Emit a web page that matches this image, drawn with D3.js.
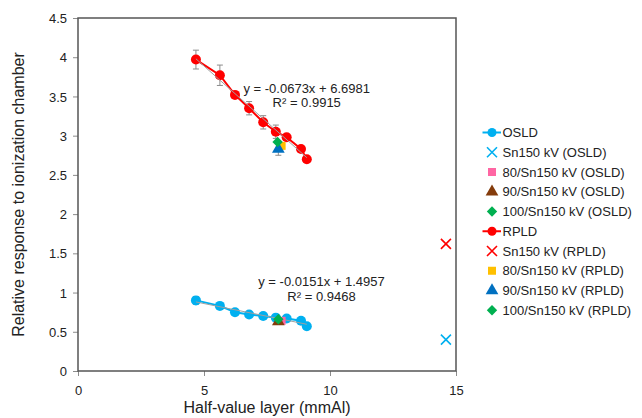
<!DOCTYPE html>
<html>
<head>
<meta charset="utf-8">
<script src="https://cdn.jsdelivr.net/npm/d3@7/dist/d3.min.js"></script>
<style>
  html, body { margin: 0; padding: 0; background: #fff; }
  svg { display: block; font-family: "Liberation Sans", Arial, sans-serif; }
</style>
</head>
<body>
<svg id="chart" width="642" height="418"></svg>
<script>
// ---- Data ----
const osldHVL   = [4.68, 5.63, 6.23, 6.79, 7.35, 7.85, 8.28, 8.85, 9.08];
const osldResp  = [0.90, 0.83, 0.75, 0.72, 0.70, 0.68, 0.67, 0.64, 0.57];
const osldErr   = [0.05, 0.03, 0.03, 0.03, 0.03, 0.03, 0.03, 0.03, 0.03];
const rpldHVL   = [4.68, 5.63, 6.23, 6.79, 7.35, 7.85, 8.28, 8.85, 9.08];
const rpldResp  = [3.97, 3.77, 3.52, 3.35, 3.17, 3.05, 2.98, 2.83, 2.70];
const rpldErr   = [0.12, 0.13, 0.03, 0.085, 0.085, 0.085, 0.04, 0.04, 0.03];

const osldExtra = [ // [label, hvl, response, shape, color]
  ["Sn150 kV (OSLD)",      14.6, 0.40, "x",        "#00B0F0"],
  ["80/Sn150 kV (OSLD)",   8.08, 0.64, "square",   "#FF66A3"],
  ["90/Sn150 kV (OSLD)",   7.95, 0.63, "triangle", "#843C0C"],
  ["100/Sn150 kV (OSLD)",  7.95, 0.66, "diamond",  "#00B050"]
];
const rpldExtra = [
  ["Sn150 kV (RPLD)",      14.6, 1.62, "x",        "#FF0000"],
  ["80/Sn150 kV (RPLD)",   8.08, 2.87, "square",   "#FFC000"],
  ["90/Sn150 kV (RPLD)",   7.95, 2.83, "triangle", "#0070C0"],
  ["100/Sn150 kV (RPLD)",  7.92, 2.92, "diamond",  "#00B050"]
];
const rpldTriErr = 0.08;

const xTicks = [0, 5, 10, 15];
const yTicks = [0, 0.5, 1, 1.5, 2, 2.5, 3, 3.5, 4, 4.5];
const xTitle = "Half-value layer (mmAl)";
const yTitle = "Relative response to ionization chamber";
const osldEq = ["y = -0.0151x + 1.4957", "R² = 0.9468"];
const rpldEq = ["y = -0.0673x + 6.6981", "R² = 0.9915"];

// ---- Layout ----
const svg = d3.select("#chart");
const L = 78, R = 456, T = 18, B = 371;
const x = d3.scaleLinear().domain([0, 15]).range([L, R]);
const y = d3.scaleLinear().domain([0, 4.5]).range([B, T]);

// Axes
const xAxis = d3.axisBottom(x).tickValues(xTicks).tickSize(5).tickFormat(d3.format("d"));
const yAxis = d3.axisLeft(y).tickValues(yTicks).tickSize(5).tickFormat(d => String(d));

const gx = svg.append("g").attr("transform", `translate(0,${B})`).call(xAxis);
const gy = svg.append("g").attr("transform", `translate(${L},0)`).call(yAxis);
[gx, gy].forEach(g => {
  g.select(".domain").remove();
  g.selectAll(".tick line").attr("stroke", "#8c8c8c").attr("stroke-width", 1);
  g.selectAll(".tick text").attr("font-size", 13).attr("fill", "#222")
    .attr("font-family", "'Liberation Sans', Arial, sans-serif");
});
gx.selectAll(".tick text").attr("dy", 0).attr("y", 24);
gy.selectAll(".tick text").attr("x", -11).attr("dy", "0.35em");

// Plot frame
svg.append("rect").attr("x", L).attr("y", T).attr("width", R - L).attr("height", B - T)
  .attr("fill", "none").attr("stroke", "#555").attr("stroke-width", 1.5);

// Titles
svg.append("text").attr("x", (L + R) / 2).attr("y", 413).attr("text-anchor", "middle")
  .attr("font-size", 16).attr("fill", "#222").text(xTitle);
svg.append("text").attr("transform", `translate(24,${(T + B) / 2}) rotate(-90)`)
  .attr("text-anchor", "middle").attr("font-size", 16).attr("fill", "#222").text(yTitle);

// Symbols
function symbolPath(shape) {
  if (shape === "square") return d3.symbol(d3.symbolSquare, 64)();
  if (shape === "triangle") return d3.symbol(d3.symbolTriangle, 70)();
  if (shape === "diamond") { const s = 5.2; return `M0,${-s}L${s},0L0,${s}L${-s},0Z`; }
  return null;
}
function drawMarker(g, cx, cy, shape, color) {
  if (shape === "x") {
    const s = 5;
    g.append("path").attr("d", `M${cx - s},${cy - s}L${cx + s},${cy + s}M${cx - s},${cy + s}L${cx + s},${cy - s}`)
      .attr("stroke", color).attr("stroke-width", 1.6).attr("fill", "none");
  } else {
    g.append("path").attr("d", symbolPath(shape)).attr("transform", `translate(${cx},${cy})`)
      .attr("fill", color);
  }
}

function errBars(g, xs, ys, es) {
  xs.forEach((xv, i) => {
    const cx = x(xv), y1 = y(ys[i] + es[i]), y2 = y(ys[i] - es[i]);
    g.append("line").attr("x1", cx).attr("x2", cx).attr("y1", y1).attr("y2", y2)
      .attr("stroke", "#8c8c8c").attr("stroke-width", 1);
    [y1, y2].forEach(yy => g.append("line").attr("x1", cx - 3).attr("x2", cx + 3)
      .attr("y1", yy).attr("y2", yy).attr("stroke", "#8c8c8c").attr("stroke-width", 1));
  });
}

function fit(xs, ys) {
  const mx = d3.mean(xs), my = d3.mean(ys);
  const b = d3.sum(xs, (v, i) => (v - mx) * (ys[i] - my)) / d3.sum(xs, v => (v - mx) ** 2);
  return { b, a: my - b * mx };
}

function series(xs, ys, es, color) {
  const g = svg.append("g");
  errBars(g, xs, ys, es);
  const pts = xs.map((v, i) => [v, ys[i]]);
  g.append("path").datum(pts)
    .attr("d", d3.line().x(d => x(d[0])).y(d => y(d[1])))
    .attr("fill", "none").attr("stroke", color).attr("stroke-width", 2);
  pts.forEach(p => g.append("circle").attr("cx", x(p[0])).attr("cy", y(p[1])).attr("r", 5).attr("fill", color));
  const f = fit(xs, ys);
  const x0 = d3.min(xs), x1 = d3.max(xs);
  g.append("line").attr("x1", x(x0)).attr("y1", y(f.a + f.b * x0))
    .attr("x2", x(x1)).attr("y2", y(f.a + f.b * x1))
    .attr("stroke", "#a0a0a0").attr("stroke-width", 1);
}

series(osldHVL, osldResp, osldErr, "#00B0F0");
series(rpldHVL, rpldResp, rpldErr, "#FF0000");

// Extra points
const gExtra = svg.append("g");
errBars(gExtra, [rpldExtra[2][1]], [rpldExtra[2][2]], [rpldTriErr]);
osldExtra.forEach(d => drawMarker(gExtra, x(d[1]), y(d[2]), d[3], d[4]));
rpldExtra.forEach(d => drawMarker(gExtra, x(d[1]), y(d[2]), d[3], d[4]));

// Equation labels
function eq(lines, cx, by) {
  lines.forEach((t, i) => svg.append("text").attr("x", cx).attr("y", by + i * 14.5)
    .attr("text-anchor", "middle").attr("font-size", 13).attr("fill", "#222").text(t));
}
eq(rpldEq, 306.7, 92.5);
eq(osldEq, 321.5, 286);

// Legend
const legendItems = [
  ["OSLD", "line", "#00B0F0"], ...osldExtra.map(d => [d[0], d[3], d[4]]),
  ["RPLD", "line", "#FF0000"], ...rpldExtra.map(d => [d[0], d[3], d[4]])
];
const lg = svg.append("g");
legendItems.forEach((d, i) => {
  const cy = 132.5 + i * 19.75;
  const mx = 492;
  if (d[1] === "line") {
    lg.append("line").attr("x1", 482.5).attr("x2", 501).attr("y1", cy).attr("y2", cy)
      .attr("stroke", d[2]).attr("stroke-width", 2);
    lg.append("circle").attr("cx", mx).attr("cy", cy).attr("r", 4.5).attr("fill", d[2]);
  } else {
    drawMarker(lg, mx, cy, d[1], d[2]);
  }
  lg.append("text").attr("x", 502.5).attr("y", cy + 4.7).attr("font-size", 13)
    .attr("fill", "#222").text(d[0]);
});
</script>
</body>
</html>
